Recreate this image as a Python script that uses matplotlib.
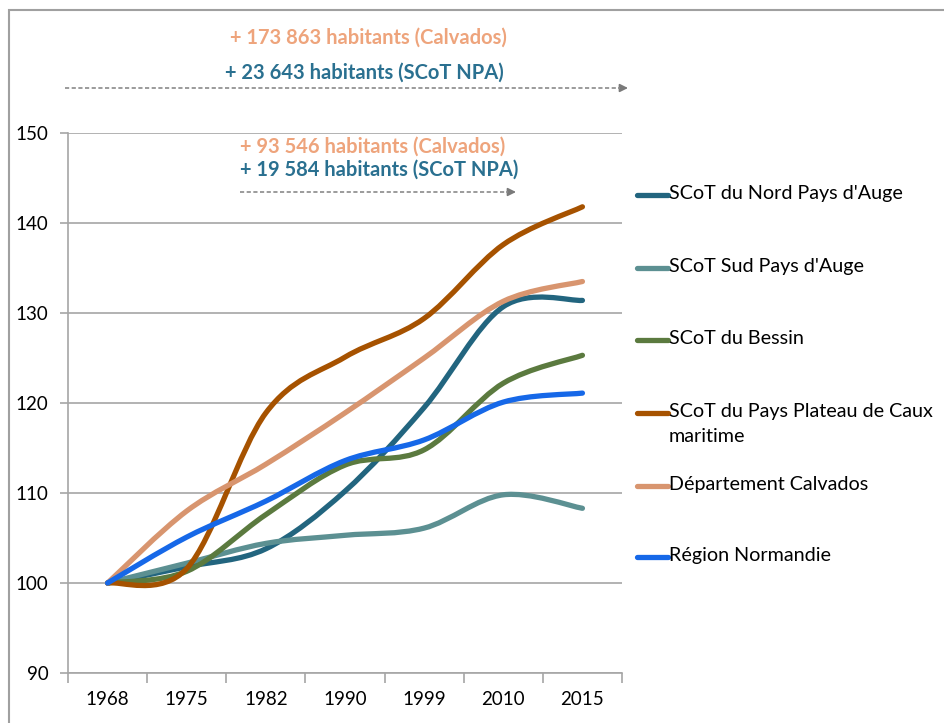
import numpy as np
import matplotlib.pyplot as plt
from matplotlib.path import Path
from matplotlib.patches import PathPatch, Rectangle
from matplotlib.lines import Line2D

plt.rcParams['font.family'] = ['Lato', 'DejaVu Sans']

# donnees (indice base 100 en 1968)
annees = ['1968', '1975', '1982', '1990', '1999', '2010', '2015']
noms = ["SCoT du Nord Pays d'Auge", "SCoT Sud Pays d'Auge", "SCoT du Bessin",
        "SCoT du Pays Plateau de Caux\nmaritime", "Département Calvados", "Région Normandie"]
nord = [100, 101.8, 103.8, 110.2, 119.5, 130.7, 131.4]
sud = [100, 102.2, 104.4, 105.3, 106.1, 109.8, 108.3]
bessin = [100, 101.3, 107.6, 113.1, 114.8, 122.2, 125.3]
caux = [100, 101.6, 118.9, 125.1, 129.4, 137.6, 141.8]
calvados = [100, 108.0, 113.2, 118.9, 125.0, 131.3, 133.5]
normandie = [100, 105.1, 109.1, 113.6, 115.9, 120.1, 121.1]
couleurs = ['#22657f', '#5c9092', '#5b7a3f', '#a65200', '#d8956f', '#1668e8']
series = [nord, sud, bessin, caux, calvados, normandie]

W, H = 945, 723
fig = plt.figure(figsize=(W / 100, H / 100), dpi=100)
ax = fig.add_axes([68 / W, 1 - 673 / H, 554 / W, 540 / H])


def courbe_lissee(x, y):
    # courbe de Bezier comme le lissage d'Excel
    pts = np.column_stack([x, y]).astype(float)
    n = len(pts)
    verts = [pts[0]]
    codes = [Path.MOVETO]
    for i in range(n - 1):
        p0 = pts[max(i - 1, 0)]
        p1 = pts[i]
        p2 = pts[i + 1]
        p3 = pts[min(i + 2, n - 1)]
        c1 = p1 + (p2 - p0) / 6
        c2 = p2 - (p3 - p1) / 6
        verts += [c1, c2, p2]
        codes += [Path.CURVE4] * 3
    return Path(verts, codes)


x = np.arange(len(annees))
for vals, c in zip(series, couleurs):
    patch = PathPatch(courbe_lissee(x, vals), facecolor='none', edgecolor=c,
                      lw=3.8, capstyle='round', joinstyle='round', zorder=3)
    ax.add_patch(patch)

ax.set_xlim(-0.5, len(annees) - 0.5)
ax.set_ylim(90, 150)
ax.set_yticks(range(90, 151, 10))
ax.grid(axis='y', color='#a6a6a6', lw=1.2)
ax.set_axisbelow(True)
ax.set_xticks(x)
ax.set_xticklabels(annees, fontsize=13.5)
ax.set_xticks(np.arange(-0.5, len(annees), 1), minor=True)
ax.tick_params(axis='x', which='major', length=0, pad=13)
ax.tick_params(axis='x', which='minor', length=7, color='#a6a6a6', width=1.2)
ax.tick_params(axis='y', length=6, color='#a6a6a6', width=1.2, labelsize=13.5, pad=8)
for s in ['top', 'right']:
    ax.spines[s].set_visible(False)
for s in ['left', 'bottom']:
    ax.spines[s].set_color('#a6a6a6')
    ax.spines[s].set_linewidth(1.2)

# cadre du graphique
fig.patches.append(Rectangle((9 / W, -0.1), 1.1, 1 - 10 / H + 0.1, transform=fig.transFigure,
                             fill=False, edgecolor='#a0a0a0', lw=1.5))

# legende
leg_y = [195, 268, 340, 413, 486, 557]
for nom, c, yy in zip(noms, couleurs, leg_y):
    fig.add_artist(Line2D([637 / W, 668 / W], [1 - yy / H] * 2, color=c, lw=3.8,
                          solid_capstyle='round', transform=fig.transFigure))
    fig.text(669 / W, 1 - (yy - 10) / H, nom, fontsize=14.2, va='top', ha='left',
             linespacing=1.55)

# annotations
orange = '#eea47c'
bleu = '#2a7090'
fig.text(368 / W, 1 - 38 / H, '+ 173 863 habitants (Calvados)', color=orange,
         fontsize=14.5, fontweight='bold', ha='center', va='center')
fig.text(364 / W, 1 - 73 / H, '+ 23 643 habitants (SCoT NPA)', color=bleu,
         fontsize=14.5, fontweight='bold', ha='center', va='center')
fig.text(240 / W, 1 - 147 / H, '+ 93 546 habitants (Calvados)', color=orange,
         fontsize=14.5, fontweight='bold', ha='left', va='center')
fig.text(240 / W, 1 - 170 / H, '+ 19 584 habitants (SCoT NPA)', color=bleu,
         fontsize=14.5, fontweight='bold', ha='left', va='center')
for x0, x1, yy in [(65, 628, 88), (240, 516, 192)]:
    fig.add_artist(Line2D([x0 / W, (x1 - 8) / W], [1 - yy / H] * 2, color='#8a8a8a',
                          lw=1.2, ls=(0, (2.5, 1.5)), transform=fig.transFigure))
    ax.annotate('', xy=(x1 / W, 1 - yy / H), xytext=((x1 - 9) / W, 1 - yy / H),
                xycoords='figure fraction', textcoords='figure fraction',
                arrowprops=dict(arrowstyle='-|>', color='#7a7a7a', lw=1.2,
                                mutation_scale=12, shrinkA=0, shrinkB=0))

fig.savefig('out.png', dpi=100)
